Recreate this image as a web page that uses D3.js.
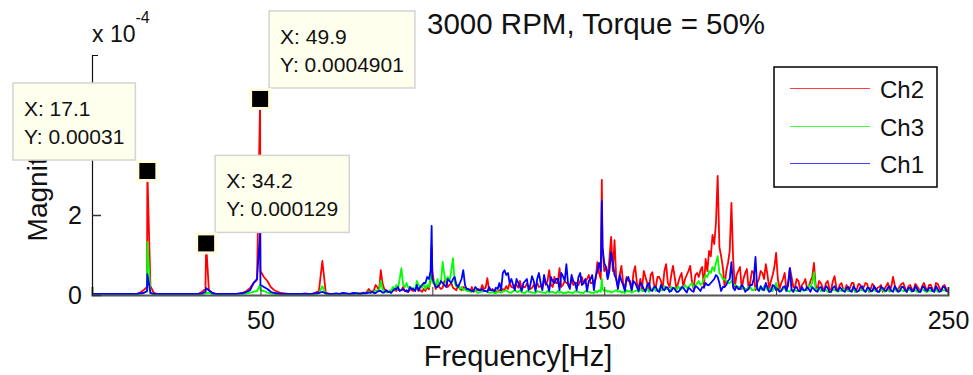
<!DOCTYPE html>
<html>
<head>
<meta charset="utf-8">
<script src="https://cdn.jsdelivr.net/npm/d3@7"></script>
<style>
  body { margin: 0; background: #fff; }
  svg { display: block; font-family: "Liberation Sans", Arial, sans-serif; }
</style>
</head>
<body>
<svg id="chart" width="973" height="375"></svg>
<script>
// spectrum magnitudes, units of 1e-6, one value per Hz from 1 to 250 Hz
const ch2Base = [
  2,2,2,2,2,2,2,2,2,2,  2,3,2,3,6,12,20,22,5,3,  2,2,3,2,2,2,2,3,2,2,  2,3,8,15,12,5,3,2,2,2,
  3,2,3,4,6,10,18,30,38,60,  45,35,20,12,8,5,4,3,3,2,  2,3,4,2,3,6,10,85,6,3,  3,2,2,4,3,2,3,5,4,6,
  8,10,12,20,62,15,10,8,12,15,  12,10,8,12,15,10,8,10,14,60,  15,20,18,40,25,18,12,15,20,12,
  10,8,12,10,15,42,12,10,8,10,  12,15,20,25,18,15,20,22,18,15,  20,18,25,62,20,30,67,25,30,22,
  25,30,35,28,40,30,35,82,40,60,  45,145,137,20,73,15,35,12,72,15,  15,45,12,57,20,45,15,77,20,73,
  15,45,20,50,73,15,55,62,20,60,  97,127,298,97,20,80,230,20,60,15,  55,15,60,12,40,55,77,15,50,105,
  15,40,12,67,20,40,12,30,15,35,  80,12,30,10,35,12,47,10,30,12,  10,30,8,28,12,30,8,28,10,20,
  8,22,12,45,10,22,30,8,25,12,  22,8,30,10,25,8,28,10,25,12
];
const ch3Base = [
  1,1,1,1,1,1,1,1,1,1,  1,1,1,2,3,5,8,5,2,1,  1,1,1,1,1,1,1,1,1,1,  1,1,2,4,6,3,1,1,1,1,
  1,1,1,2,3,4,6,8,10,12,  10,6,4,3,2,1,1,1,1,1,  1,1,1,1,2,3,4,22,3,2,  2,3,2,4,3,2,4,5,3,4,
  6,5,8,10,35,8,6,10,12,15,  67,20,18,15,12,25,18,15,20,30,  20,25,83,30,35,92,20,15,12,10,
  8,10,6,8,10,8,6,5,8,6,  10,8,6,12,8,6,5,8,6,5,  8,6,5,6,8,5,6,4,5,6,
  5,8,6,5,8,6,5,6,8,10,  8,6,10,8,6,5,8,6,10,8,  10,12,8,15,10,8,12,15,10,18,
  12,15,20,18,25,20,30,25,40,45,  55,60,97,50,40,30,35,25,20,18,  15,20,12,18,15,12,20,15,10,30,
  12,15,10,8,12,10,8,10,12,20,  57,15,10,12,8,10,12,8,10,12,  10,12,8,10,12,8,10,12,10,8,
  12,10,8,10,12,15,10,8,12,10,  8,10,12,8,10,12,8,10,12,8
];
const ch1Base = [
  3,3,3,3,3,3,3,3,3,3,  3,3,3,3,4,5,10,5,3,3,  3,3,3,3,3,3,3,3,3,3,  3,3,4,8,12,5,3,3,3,3,
  3,3,3,4,5,8,12,30,40,25,  20,15,8,5,4,3,3,3,3,3,  3,3,3,3,3,4,5,8,4,3,  3,4,3,5,4,3,5,4,3,5,
  5,6,5,8,10,6,8,5,15,20,  12,10,8,15,10,12,25,30,40,40,  20,25,30,20,35,40,25,30,62,15,
  12,10,15,12,10,8,12,10,15,12,  62,55,40,12,30,10,35,12,47,10,  55,12,30,10,35,40,12,47,77,15,
  35,12,55,30,10,40,12,60,60,80,  40,107,50,15,35,10,45,12,30,10,  25,8,30,10,20,8,15,20,8,18,
  8,12,18,6,15,8,20,10,18,25,  30,40,45,10,20,35,82,12,15,25,  8,15,25,95,10,15,30,8,25,12,
  8,20,10,67,8,20,10,12,20,8,  15,8,20,10,18,8,22,10,15,8,  20,8,15,10,22,8,18,10,15,8,
  18,10,22,8,15,10,20,8,18,10,  15,8,20,10,18,8,15,10,20,8
];

// half-Hz points from 80.5 to 249.5 Hz, units of 1e-6
const ch2Mid = [
  5,15,8,25,10,30,12,8,15,10,  12,20,8,15,10,18,12,15,20,40,  30,25,15,35,20,30,15,25,12,18,
  12,20,10,15,25,18,12,15,10,12,  15,22,30,18,25,35,20,28,15,25,  30,22,40,35,25,45,30,20,35,28,
  40,30,25,45,35,50,30,40,55,120,  70,90,60,40,50,30,45,35,55,30,  40,60,30,50,25,45,35,60,30,50,
  45,30,55,40,60,35,50,45,70,90,  110,150,180,120,70,60,110,90,50,70,  40,65,35,55,30,60,40,50,35,70,
  40,30,55,25,45,20,35,25,40,20,  45,25,35,20,30,15,35,20,25,15,  25,18,30,15,25,20,28,15,22,18,
  25,15,30,20,25,15,28,18,22,15,  28,15,22,18,25,15,30,18,22,15
];
const ch3Mid = [
  4,8,6,12,10,15,8,12,20,25,  40,25,30,20,18,35,22,30,25,45,  35,40,30,50,45,60,30,25,20,15,
  10,8,12,6,8,10,6,8,5,8,  8,12,6,10,8,12,6,10,8,6,  10,8,6,10,8,6,10,8,6,8,
  6,10,8,6,10,8,6,10,12,15,  12,10,8,12,10,8,12,10,8,12,  15,10,18,12,20,15,12,22,15,20,
  18,22,15,25,20,30,22,35,30,50,  60,70,80,55,40,35,30,28,22,20,  18,15,20,12,18,15,22,12,15,20,
  15,12,18,10,15,12,10,15,12,25,  30,12,15,10,12,8,14,10,12,15,  12,10,15,8,12,10,14,8,12,10,
  15,8,12,10,14,8,12,10,15,8,  12,10,14,8,12,10,15,8,12,10
];
const ch1Mid = [
  4,6,8,5,10,6,12,8,10,15,  10,15,12,20,15,25,20,30,45,60,  30,20,35,25,40,30,45,20,40,25,
  15,10,20,12,15,10,20,12,18,30,  55,50,30,25,40,20,30,40,25,35,  40,30,50,25,45,30,40,55,35,25,
  50,30,45,25,40,35,50,45,80,120,  70,60,80,40,50,25,40,30,35,20,  30,15,25,12,20,10,25,12,18,10,
  15,8,20,12,18,10,22,15,20,30,  25,35,50,30,20,25,40,18,22,15,  20,12,25,40,15,22,12,18,10,22,
  15,10,22,30,12,18,10,20,12,15,  20,10,18,12,22,8,18,12,20,10,  18,10,22,8,20,12,18,10,22,8,
  20,12,18,10,22,8,20,12,18,10,  22,8,20,12,18,10,22,8,20,10
];

// sharp peaks between the grid points: [Hz, 1e-6]
const ch2Peaks = [[17.1, 310], [34.2, 129], [49.9, 490.1], [99.8, 120], [149.3, 288]];
const ch3Peaks = [[17.1, 133], [49.9, 25], [99.8, 60], [149.3, 40]];
const ch1Peaks = [[17.1, 52], [34.2, 17], [49.9, 157], [99.8, 173], [149.3, 235]];

const seriesNames = ['Ch2', 'Ch3', 'Ch1'];
const seriesColors = ['#ff0000', '#00ff00', '#0000ff'];

const xTicks = [50, 100, 150, 200, 250];
const yTicks = [0, 2e-4, 4e-4];

const titleText = '3000 RPM, Torque = 50%';
const xLabel = 'Frequency[Hz]';
const yLabel = 'Magnitude';

const tipFreqs = [17.1, 49.9, 34.2];
const tipValues = [0.00031, 0.0004901, 0.000129];
const tipXText = ['17.1', '49.9', '34.2'];
const tipYText = ['0.00031', '0.0004901', '0.000129'];

function buildSeries(base, mid, peaks) {
  const pts = base.map((v, i) => ({ f: i + 1, v: v * 1e-6 }));
  mid.forEach((v, i) => pts.push({ f: 80.5 + i, v: v * 1e-6 }));
  peaks.forEach(([f, v]) => pts.push({ f, v: v * 1e-6 }));
  return pts.sort((a, b) => a.f - b.f);
}

const series = [
  buildSeries(ch2Base, ch2Mid, ch2Peaks),
  buildSeries(ch3Base, ch3Mid, ch3Peaks),
  buildSeries(ch1Base, ch1Mid, ch1Peaks)
];

const svg = d3.select('#chart');
svg.append('rect').attr('width', 973).attr('height', 375).attr('fill', '#fff');

const x = d3.scaleLinear().domain([1, 250]).range([92, 948]);
const y = d3.scaleLinear().domain([0, 6e-4]).range([295, 55]);

svg.append('clipPath').attr('id', 'plotclip')
  .append('rect').attr('x', 92).attr('y', 50).attr('width', 857).attr('height', 246);

const plot = svg.append('g').attr('clip-path', 'url(#plotclip)');
const line = d3.line().x((d) => x(d.f)).y((d) => y(d.v));

series.forEach((s, i) => {
  plot.append('path')
    .datum(s)
    .attr('fill', 'none')
    .attr('stroke', seriesColors[i])
    .attr('stroke-width', 1.8)
    .attr('stroke-linejoin', 'round')
    .attr('d', line);
});

// axes
const xAxis = svg.append('g')
  .attr('transform', 'translate(0,295)')
  .call(d3.axisBottom(x).tickValues(xTicks).tickSizeInner(-8).tickSizeOuter(-8).tickPadding(16));
xAxis.select('.domain').attr('stroke', '#555').attr('stroke-width', 2);
xAxis.selectAll('.tick line').attr('stroke', '#333');
xAxis.selectAll('text').attr('font-size', 25).attr('font-family', '"Liberation Sans", Arial, sans-serif').attr('fill', '#111');

// the 4 label sits under the first data tip in the original, so it is left blank
const yAxis = svg.append('g')
  .attr('transform', 'translate(92,0)')
  .call(d3.axisLeft(y).tickValues(yTicks).tickSizeInner(-9).tickSizeOuter(-6).tickPadding(10)
    .tickFormat((d) => (d > 3e-4 ? '' : d3.format('d')(d / 1e-4))));
yAxis.select('.domain').attr('stroke', '#111').attr('stroke-width', 1.2);
yAxis.selectAll('.tick line').attr('stroke', '#333').attr('stroke-width', 1.5);
yAxis.selectAll('text').attr('font-size', 25).attr('font-family', '"Liberation Sans", Arial, sans-serif').attr('fill', '#111');

// exponent
const expo = svg.append('text').attr('x', 92).attr('y', 42).attr('font-size', 23).attr('fill', '#111');
expo.append('tspan').text('x 10');
expo.append('tspan').attr('dy', -19).attr('font-size', 16).text('-4');

// title and labels
svg.append('text').attr('x', 427).attr('y', 34).attr('font-size', 29.5).attr('fill', '#111').text(titleText);
svg.append('text').attr('x', 518).attr('y', 366).attr('text-anchor', 'middle')
  .attr('font-size', 29).attr('fill', '#111').text(xLabel);
svg.append('text').attr('transform', 'translate(47,176) rotate(-90)').attr('text-anchor', 'middle')
  .attr('font-size', 28).attr('fill', '#111').text(yLabel);

// legend
const legend = svg.append('g');
legend.append('rect').attr('x', 774).attr('y', 67).attr('width', 163).attr('height', 120)
  .attr('fill', '#fff').attr('stroke', '#000').attr('stroke-width', 1.5);
seriesNames.forEach((name, i) => {
  const ly = Math.round(88 + i * 37.5) + 0.5;
  legend.append('line').attr('x1', 790).attr('x2', 870).attr('y1', ly).attr('y2', ly)
    .attr('stroke', seriesColors[i]).attr('stroke-width', 1.2).attr('stroke-opacity', 0.75);
  legend.append('text').attr('x', 880).attr('y', ly + 9).attr('font-size', 24).attr('fill', '#111').text(name);
});

// data tips
const tips = svg.append('g');
tipFreqs.forEach((f, i) => {
  const mx = x(f), my = y(tipValues[i]);
  const g = tips.append('g');
  const box = g.append('rect').attr('fill', '#ffffee').attr('stroke', '#d4d4d4').attr('stroke-width', 1.5);
  const t1 = g.append('text').attr('font-size', 21).attr('fill', '#111').text('X: ' + tipXText[i]);
  const t2 = g.append('text').attr('font-size', 21).attr('fill', '#111').text('Y: ' + tipYText[i]);
  const w = Math.max(t1.node().getComputedTextLength(), t2.node().getComputedTextLength()) + 22;
  const h = 77;
  const bx = i === 0 ? mx - 12 - w : mx + 9;
  const by = my - 11 - h;
  box.attr('x', bx).attr('y', by).attr('width', w).attr('height', h);
  t1.attr('x', bx + 11).attr('y', by + 33);
  t2.attr('x', bx + 11).attr('y', by + 61);
  g.append('rect').attr('x', mx - 11).attr('y', my - 11).attr('width', 22).attr('height', 22).attr('fill', '#fffddc');
  g.append('rect').attr('x', mx - 8).attr('y', my - 8).attr('width', 16).attr('height', 16).attr('fill', '#000');
});
</script>
</body>
</html>
